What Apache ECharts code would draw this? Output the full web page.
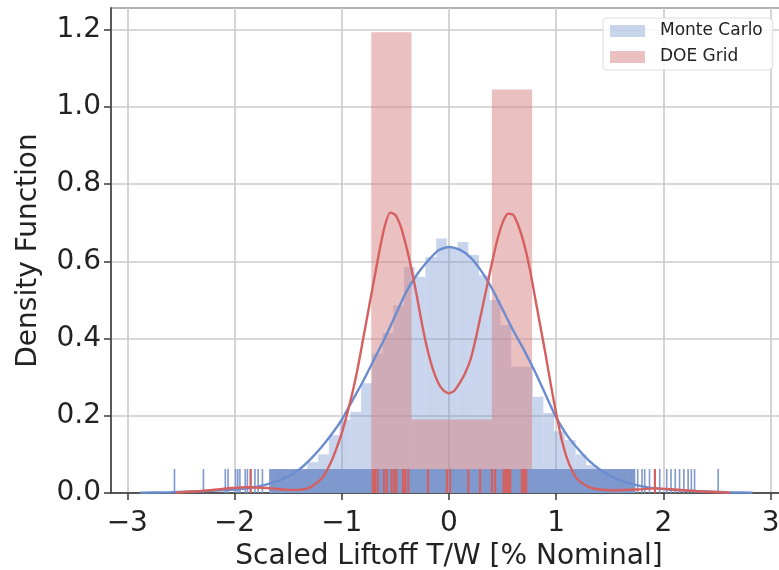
<!DOCTYPE html>
<html>
<head>
<meta charset="utf-8">
<script src="https://cdn.jsdelivr.net/npm/echarts@6/dist/echarts.min.js"></script>
<style>
  html, body { margin: 0; padding: 0; background: #fff; }
  #chart { width: 779px; height: 570px; }
</style>
</head>
<body>
<div id="chart"></div>
<script>
// histogram bins: [left edge, right edge, density]
const mcBins = [
  [-1.52, -1.42, 0.03], [-1.42, -1.32, 0.05], [-1.32, -1.22, 0.08], [-1.22, -1.12, 0.10],
  [-1.12, -1.02, 0.15], [-1.02, -0.92, 0.19], [-0.92, -0.82, 0.21], [-0.82, -0.72, 0.284],
  [-0.72, -0.62, 0.361], [-0.62, -0.52, 0.414], [-0.52, -0.42, 0.486], [-0.42, -0.32, 0.585],
  [-0.32, -0.22, 0.56], [-0.22, -0.12, 0.611], [-0.12, -0.02, 0.659], [-0.02, 0.08, 0.634],
  [0.08, 0.18, 0.65], [0.18, 0.28, 0.616], [0.28, 0.38, 0.564], [0.38, 0.48, 0.5],
  [0.48, 0.58, 0.435], [0.58, 0.68, 0.327], [0.68, 0.78, 0.327], [0.78, 0.88, 0.249],
  [0.88, 0.98, 0.207], [0.98, 1.08, 0.16], [1.08, 1.18, 0.137], [1.18, 1.28, 0.10],
  [1.28, 1.38, 0.072], [1.38, 1.48, 0.045], [1.48, 1.58, 0.03]
];
const doeBins = [
  [-0.725, -0.35, 1.193], [-0.35, 0.025, 0.19], [0.025, 0.40, 0.19], [0.40, 0.775, 1.045]
];

// kde curves
const mcKdeX = [-2.88, -2.6, -2.3, -2.0, -1.8, -1.6, -1.5, -1.4, -1.3, -1.2, -1.1, -1.0, -0.9, -0.8,
  -0.7, -0.6, -0.5, -0.4, -0.3, -0.2, -0.1, 0, 0.1, 0.2, 0.3, 0.4, 0.5, 0.6, 0.7, 0.8, 0.9, 1.0,
  1.1, 1.2, 1.3, 1.4, 1.5, 1.6, 1.8, 2.0, 2.3, 2.6, 2.83];
const mcKdeY = [0.001, 0.002, 0.005, 0.009, 0.016, 0.031, 0.043, 0.06, 0.085, 0.115, 0.15, 0.19, 0.24, 0.29,
  0.345, 0.40, 0.46, 0.52, 0.565, 0.60, 0.628, 0.637, 0.63, 0.61, 0.575, 0.53, 0.475, 0.42, 0.37, 0.315,
  0.255, 0.195, 0.15, 0.115, 0.085, 0.062, 0.045, 0.032, 0.017, 0.01, 0.005, 0.002, 0.001];

const doeKdeX = [-2.55, -2.3, -2.1, -1.9, -1.7, -1.5, -1.4, -1.3, -1.2, -1.15, -1.1, -1.05, -1.0, -0.95,
  -0.9, -0.85, -0.8, -0.75, -0.7, -0.65, -0.6, -0.55, -0.5, -0.45, -0.4, -0.35, -0.3, -0.25, -0.2,
  -0.15, -0.1, -0.05, 0, 0.05, 0.1, 0.15, 0.2, 0.25, 0.3, 0.35, 0.4, 0.45, 0.5, 0.55, 0.6, 0.65,
  0.7, 0.75, 0.8, 0.85, 0.9, 0.95, 1.0, 1.05, 1.1, 1.15, 1.2, 1.3, 1.4, 1.55, 1.75, 1.92, 2.1, 2.35, 2.62];
const doeKdeY = [0.001, 0.005, 0.011, 0.015, 0.013, 0.008, 0.008, 0.014, 0.034, 0.053, 0.08, 0.115, 0.155, 0.205,
  0.26, 0.325, 0.40, 0.475, 0.55, 0.625, 0.69, 0.726, 0.72, 0.69, 0.64, 0.58, 0.51, 0.435, 0.37,
  0.32, 0.285, 0.265, 0.258, 0.265, 0.285, 0.31, 0.345, 0.40, 0.465, 0.53, 0.595, 0.655, 0.70, 0.723, 0.72, 0.69,
  0.645, 0.585, 0.51, 0.435, 0.36, 0.28, 0.205, 0.14, 0.09, 0.057, 0.035, 0.016, 0.009, 0.007, 0.009, 0.012, 0.009, 0.004, 0.001];

// rug samples
const mcRugSparse = [-2.56, -2.29, -2.086, -2.06, -1.99, -1.97, -1.95, -1.90, -1.88, -1.85, -1.81, -1.78,
  -1.74, -1.67, 1.73, 1.76, 1.80, 1.825, 1.87, 1.965, 2.03, 2.07, 2.11, 2.15, 2.19, 2.23, 2.26, 2.29, 2.51];
const mcRugDense = [-1.65, -1.62, -1.59, -1.56, -1.53, -1.50, -1.47, -1.44, -1.41, -1.38, -1.35, -1.32,
  -1.29, -1.26, -1.23, -1.20, -1.17, -1.14, -1.11, -1.08, -1.05, -1.02, -0.99, -0.96, -0.93, -0.90,
  -0.87, -0.84, -0.81, -0.78, -0.75, -0.72, -0.69, -0.66, -0.63, -0.60, -0.57, -0.54, -0.51, -0.48,
  -0.45, -0.42, -0.39, -0.36, -0.33, -0.30, -0.27, -0.24, -0.21, -0.18, -0.15, -0.12, -0.09, -0.06,
  -0.03, 0.00, 0.03, 0.06, 0.09, 0.12, 0.15, 0.18, 0.21, 0.24, 0.27, 0.30, 0.33, 0.36, 0.39, 0.42,
  0.45, 0.48, 0.51, 0.54, 0.57, 0.60, 0.63, 0.66, 0.69, 0.72, 0.75, 0.78, 0.81, 0.84, 0.87, 0.90,
  0.93, 0.96, 0.99, 1.02, 1.05, 1.08, 1.11, 1.14, 1.17, 1.20, 1.23, 1.26, 1.29, 1.32, 1.35, 1.38,
  1.41, 1.44, 1.47, 1.50, 1.53, 1.56, 1.59, 1.62, 1.65, 1.68, 1.71];
const doeRug = [-1.85, -0.71, -0.69, -0.665, -0.605, -0.58, -0.535, -0.51, -0.49, -0.43, -0.41, -0.38,
  -0.195, -0.02, 0.01, 0.18, 0.29, 0.40, 0.43, 0.51, 0.53, 0.55, 0.57, 0.68, 0.70, 0.72, 1.92];

const RUG_H = 0.062;
const FONT = 'DejaVu Sans';

const BLUE = '#6b8dd0';
const RED = '#d5605f';
const BLUE_FILL = 'rgba(120,150,210,0.4)';
const RED_FILL = 'rgba(214,130,132,0.5)';

function histSeries(name, bins, fill) {
  return {
    name: name,
    type: 'custom',
    itemStyle: { color: fill },
    encode: { x: [0, 1], y: 2 },
    data: bins,
    z: 1,
    renderItem: function (params, api) {
      const p0 = api.coord([api.value(0), api.value(2)]);
      const p1 = api.coord([api.value(1), 0]);
      return {
        type: 'rect',
        shape: { x: p0[0], y: p0[1], width: p1[0] - p0[0], height: p1[1] - p0[1] },
        style: { fill: fill }
      };
    }
  };
}

function rugSeries(name, xs, color, width) {
  return {
    name: name,
    type: 'custom',
    encode: { x: 0, y: 1 },
    data: xs.map(v => [v, RUG_H]),
    z: 3,
    renderItem: function (params, api) {
      const a = api.coord([api.value(0), 0]);
      const b = api.coord([api.value(0), api.value(1)]);
      return {
        type: 'line',
        shape: { x1: a[0], y1: a[1], x2: b[0], y2: b[1] },
        style: { stroke: color, lineWidth: width }
      };
    }
  };
}

function kdeSeries(name, xs, ys, color) {
  return {
    name: name,
    type: 'line',
    data: xs.map((x, i) => [x, ys[i]]),
    smooth: 0.2,
    showSymbol: false,
    silent: true,
    z: 3,
    lineStyle: { color: color, width: 2.4 }
  };
}

const chart = echarts.init(document.getElementById('chart'));
const option = {
  animation: false,
  backgroundColor: '#fff',
  grid: {
    left: 111, top: 8, width: 676, bottom: 77,
    containLabel: false, outerBoundsMode: 'none',
    show: true, borderColor: '#3a3a3a', borderWidth: 1.5, backgroundColor: 'transparent'
  },
  legend: {
    orient: 'vertical',
    left: 603, top: 18,
    data: ['Monte Carlo', 'DOE Grid'],
    icon: 'rect',
    itemWidth: 35, itemHeight: 12, itemGap: 6,
    padding: [3, 10, 3, 7],
    backgroundColor: 'rgba(255,255,255,0.85)',
    borderColor: '#dddddd', borderWidth: 1, borderRadius: 4,
    textStyle: { fontFamily: FONT, fontSize: 17, color: '#222', lineHeight: 20, padding: [0, 0, 0, 10] }
  },
  xAxis: {
    type: 'value',
    min: -3.152, max: 3.152, splitNumber: 6,
    name: 'Scaled Liftoff T/W [% Nominal]',
    nameLocation: 'middle', nameGap: 37,
    nameTextStyle: { fontFamily: FONT, fontSize: 28, color: '#222' },
    axisLine: { show: true, onZero: false, lineStyle: { color: '#3a3a3a', width: 1.5 } },
    axisTick: { show: true, length: 7, lineStyle: { color: '#3a3a3a', width: 1.5 } },
    axisLabel: {
      fontFamily: FONT, fontSize: 28, color: '#222', margin: 17,
      showMinLabel: false, showMaxLabel: false,
      formatter: v => String(v).replace('-', '\u2212')
    },
    splitLine: { show: true, lineStyle: { color: '#cbcbcb', width: 1.6 } }
  },
  yAxis: {
    type: 'value',
    min: 0, max: 1.2557, interval: 0.2,
    name: 'Density Function',
    nameLocation: 'middle', nameGap: 68,
    nameTextStyle: { fontFamily: FONT, fontSize: 28, color: '#222' },
    axisLine: { show: true, onZero: false, lineStyle: { color: '#3a3a3a', width: 1.5 } },
    axisTick: { show: true, length: 7, lineStyle: { color: '#3a3a3a', width: 1.5 } },
    axisLabel: {
      fontFamily: FONT, fontSize: 28, color: '#222', margin: 10,
      showMaxLabel: false,
      formatter: v => v.toFixed(1)
    },
    splitLine: { show: true, lineStyle: { color: '#cbcbcb', width: 1.6 } }
  },
  series: [
    histSeries('Monte Carlo', mcBins, BLUE_FILL),
    histSeries('DOE Grid', doeBins, RED_FILL),
    kdeSeries('Monte Carlo KDE', mcKdeX, mcKdeY, BLUE),
    rugSeries('Monte Carlo rug', mcRugSparse, '#7f98cd', 1.6),
    rugSeries('Monte Carlo rug dense', mcRugDense, '#7f98cd', 3.8),
    kdeSeries('DOE Grid KDE', doeKdeX, doeKdeY, RED),
    rugSeries('DOE Grid rug', doeRug, '#d4615f', 2.2)
  ]
};
chart.setOption(option);
</script>
</body>
</html>
